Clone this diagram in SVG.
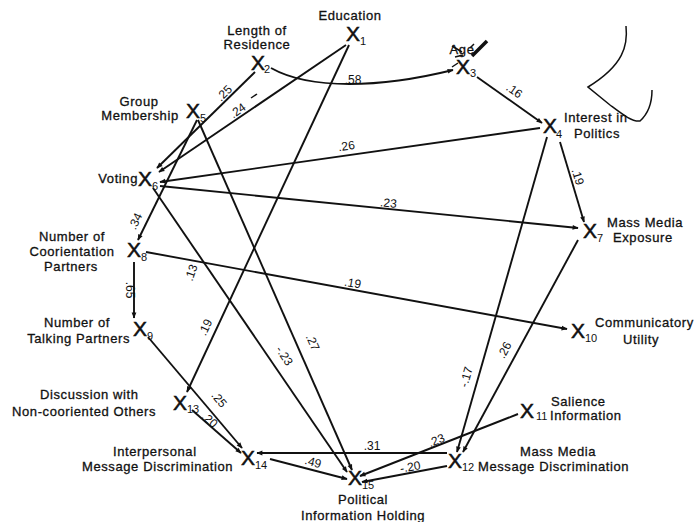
<svg xmlns="http://www.w3.org/2000/svg" width="697" height="522" viewBox="0 0 697 522">
<defs>
<marker id="ah" viewBox="0 0 10 10" refX="9" refY="5" markerWidth="7" markerHeight="6" markerUnits="userSpaceOnUse" orient="auto">
<path d="M0,1 L10,5 L0,9 Z" fill="#111"/>
</marker>
<style>
.t{font-family:"Liberation Sans",Arial,sans-serif;font-size:13px;letter-spacing:0.6px;fill:#111;stroke:#111;stroke-width:0.3}
.x{font-family:"Liberation Sans",Arial,sans-serif;font-size:21px;fill:#111;stroke:#111;stroke-width:0.5;text-anchor:middle}
.s{font-family:"Liberation Sans",Arial,sans-serif;font-size:11px;fill:#111}
.c{font-family:"Liberation Sans",Arial,sans-serif;font-size:12px;fill:#111;text-anchor:middle}
.e{fill:none;stroke:#111;stroke-width:1.9;marker-end:url(#ah)}
.p{fill:none;stroke:#111;stroke-width:1.5}
</style>
</defs>
<rect width="697" height="522" fill="#fff"/>

<g id="connectors">
<path class="e" d="M271,68 C310,90 380,88 453,70"/>
<path class="e" d="M477,77 L542,123"/>
<path class="e" d="M255,72 L157,168"/>
<path class="e" d="M346,45 L159,172"/>
<path class="e" d="M349,45 L187,392"/>
<path class="e" d="M197,120 L138,240"/>
<path class="e" d="M198,120 L352,470"/>
<path class="e" d="M153,188 L347,472"/>
<path class="e" d="M540,128 L160,182"/>
<path class="e" d="M160,186 L578,228"/>
<path class="e" d="M560,142 L584,222"/>
<path class="e" d="M547,137 L457,452"/>
<path class="e" d="M578,240 L463,452"/>
<path class="e" d="M146,252 L567,329"/>
<path class="e" d="M134,262 L134,318"/>
<path class="e" d="M148,337 L242,448"/>
<path class="e" d="M192,410 L241,453"/>
<path class="e" d="M447,453 L257,453"/>
<path class="e" d="M270,459 L347,479"/>
<path class="e" d="M447,466 L362,482"/>
<path class="e" d="M518,414 L360,476"/>
<path class="p" d="M251,98 L257,94"/>
<g class="c">
<text x="353" y="84">.58</text>
<text transform="translate(512,94) rotate(35)">.16</text>
<text transform="translate(227,96) rotate(-45)">.25</text>
<text transform="translate(240,114) rotate(-35)">.24</text>
<text transform="translate(209,329) rotate(-65)">.19</text>
<text transform="translate(139,223) rotate(-65)">.34</text>
<text transform="translate(309,344) rotate(66)">.27</text>
<text transform="translate(281,358) rotate(57)">-.23</text>
<text transform="translate(195,274) rotate(-70)">.13</text>
<text x="347" y="150" transform="rotate(-8,347,150)">.26</text>
<text transform="translate(388,207) rotate(6)">.23</text>
<text transform="translate(574,178) rotate(73)">.19</text>
<text transform="translate(470,378) rotate(-74)">-.17</text>
<text transform="translate(508,352) rotate(-62)">.26</text>
<text transform="translate(352,287) rotate(10)">.19</text>
<text transform="translate(126,290) rotate(90)">.65</text>
<text transform="translate(216,402) rotate(50)">.25</text>
<text transform="translate(207,423) rotate(42)">.20</text>
<text x="372" y="450">.31</text>
<text transform="translate(312,466) rotate(15)">.49</text>
<text transform="translate(411,471) rotate(-10)">-.20</text>
<text transform="translate(438,444) rotate(-22)">.23</text>
</g>
</g>

<g id="n1"><text class="x" x="353" y="41">X</text><text class="s" x="360" y="45">1</text><text class="t" x="350" y="20" text-anchor="middle">Education</text></g>
<g id="n2"><text class="x" x="258" y="70">X</text><text class="s" x="264" y="73">2</text><text class="t" x="257" y="35" text-anchor="middle">Length of</text><text class="t" x="257" y="49" text-anchor="middle">Residence</text></g>
<g id="n3"><text class="x" x="463" y="74">X</text><text class="s" x="470" y="77">3</text><text class="t" x="462" y="54" text-anchor="middle">Age</text>
<path class="p" d="M452,46 L462,52 M455,57 L463,55 M458,63 L452,67 M470,48 L474,44" stroke-width="1"/>
<path d="M472,56 L487,41" stroke="#111" stroke-width="3.5" fill="none"/></g>
<g id="n4"><text class="x" x="550" y="133">X</text><text class="s" x="556" y="138">4</text><text class="t" x="564" y="122">Interest in</text><text class="t" x="574" y="138">Politics</text></g>
<g id="n5"><text class="x" x="193" y="118">X</text><text class="s" x="200" y="122">5</text><text class="t" x="139" y="106" text-anchor="middle">Group</text><text class="t" x="140" y="120" text-anchor="middle">Membership</text></g>
<g id="n6"><text class="x" x="145" y="186">X</text><text class="s" x="152" y="190">6</text><text class="t" x="138" y="183" text-anchor="end">Voting</text></g>
<g id="n7"><text class="x" x="590" y="238">X</text><text class="s" x="597" y="242">7</text><text class="t" x="607" y="227">Mass Media</text><text class="t" x="613" y="242">Exposure</text></g>
<g id="n8"><text class="x" x="134" y="257">X</text><text class="s" x="141" y="261">8</text><text class="t" x="72" y="241" text-anchor="middle">Number of</text><text class="t" x="72" y="256" text-anchor="middle">Coorientation</text><text class="t" x="71" y="271" text-anchor="middle">Partners</text></g>
<g id="n9"><text class="x" x="140" y="336">X</text><text class="s" x="147" y="340">9</text><text class="t" x="110" y="327" text-anchor="end">Number of</text><text class="t" x="130" y="343" text-anchor="end">Talking Partners</text></g>
<g id="n10"><text class="x" x="578" y="338">X</text><text class="s" x="585" y="342">10</text><text class="t" x="595" y="327">Communicatory</text><text class="t" x="623" y="344">Utility</text></g>
<g id="n11"><text class="x" x="527" y="418">X</text><text class="s" x="536" y="420">11</text><text class="t" x="551" y="406">Salience</text><text class="t" x="550" y="420">Information</text></g>
<g id="n12"><text class="x" x="455" y="468">X</text><text class="s" x="462" y="471">12</text><text class="t" x="520" y="456">Mass Media</text><text class="t" x="478" y="471">Message Discrimination</text></g>
<g id="n13"><text class="x" x="180" y="410">X</text><text class="s" x="187" y="413">13</text><text class="t" x="40" y="399">Discussion with</text><text class="t" x="12" y="416">Non-cooriented Others</text></g>
<g id="n14"><text class="x" x="248" y="465">X</text><text class="s" x="255" y="469">14</text><text class="t" x="113" y="456">Interpersonal</text><text class="t" x="82" y="471">Message Discrimination</text></g>
<g id="n15"><text class="x" x="355" y="485">X</text><text class="s" x="362" y="489">15</text><text class="t" x="363" y="504" text-anchor="middle">Political</text><text class="t" x="363" y="520" text-anchor="middle">Information Holding</text></g>

<path class="p" d="M626,26 C628,45 624,65 588,87 L610,105 C622,114 632,122 640,121 C650,112 652,100 652,90"/>
</svg>
